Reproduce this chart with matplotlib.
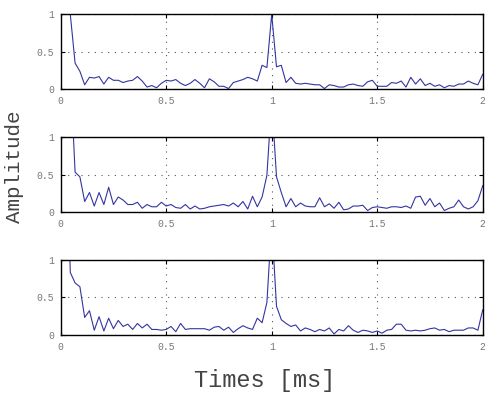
import numpy as np
import matplotlib
matplotlib.use("Agg")
import matplotlib.pyplot as plt

plt.rcParams["font.family"] = ["Liberation Mono", "DejaVu Sans Mono"]

# sample spacing: 44 samples per ms, samples k = 1..88
dt = 1.0 / 44
k = np.arange(1, 89)
times = k * dt

amp_top = [4.0, 1.0, 0.35, 0.24, 0.06, 0.16, 0.15, 0.17, 0.07, 0.16, 0.12, 0.12, 0.09, 0.11,
           0.12, 0.17, 0.11, 0.03, 0.05, 0.02, 0.08, 0.12, 0.11, 0.13, 0.08, 0.05, 0.08, 0.13,
           0.08, 0.02, 0.14, 0.10, 0.04, 0.04, 0.01, 0.09, 0.11, 0.13, 0.16, 0.14, 0.11, 0.32,
           0.29, 1.0, 0.30, 0.32, 0.09, 0.16, 0.08, 0.07, 0.08, 0.07, 0.06, 0.06, 0.01, 0.06,
           0.05, 0.03, 0.03, 0.06, 0.07, 0.05, 0.04, 0.10, 0.12, 0.04, 0.04, 0.04, 0.09, 0.08,
           0.11, 0.03, 0.16, 0.07, 0.14, 0.05, 0.08, 0.04, 0.06, 0.02, 0.05, 0.04, 0.07, 0.07,
           0.11, 0.08, 0.06, 0.20]

amp_mid = [4.0, 1.9, 0.53, 0.47, 0.14, 0.26, 0.08, 0.26, 0.10, 0.33, 0.10, 0.20, 0.16, 0.10,
           0.10, 0.13, 0.05, 0.10, 0.07, 0.07, 0.13, 0.08, 0.10, 0.06, 0.05, 0.10, 0.04, 0.08,
           0.04, 0.05, 0.07, 0.08, 0.09, 0.10, 0.08, 0.12, 0.07, 0.14, 0.04, 0.21, 0.07, 0.20,
           0.49, 1.5, 0.47, 0.26, 0.07, 0.18, 0.07, 0.12, 0.08, 0.07, 0.07, 0.19, 0.07, 0.11,
           0.05, 0.13, 0.03, 0.04, 0.08, 0.08, 0.09, 0.02, 0.06, 0.07, 0.06, 0.05, 0.07, 0.07,
           0.06, 0.08, 0.05, 0.20, 0.21, 0.09, 0.18, 0.07, 0.12, 0.02, 0.05, 0.07, 0.16, 0.07,
           0.04, 0.07, 0.15, 0.35]

amp_bot = [3.2, 0.83, 0.69, 0.64, 0.23, 0.32, 0.06, 0.24, 0.05, 0.22, 0.08, 0.19, 0.11, 0.14,
           0.07, 0.15, 0.09, 0.14, 0.07, 0.07, 0.06, 0.07, 0.11, 0.04, 0.15, 0.07, 0.08, 0.08,
           0.08, 0.08, 0.06, 0.10, 0.11, 0.06, 0.10, 0.03, 0.08, 0.12, 0.09, 0.07, 0.22, 0.16,
           0.43, 1.5, 0.38, 0.20, 0.15, 0.11, 0.13, 0.05, 0.09, 0.07, 0.04, 0.07, 0.05, 0.09,
           0.01, 0.07, 0.05, 0.12, 0.06, 0.03, 0.06, 0.05, 0.03, 0.05, 0.02, 0.06, 0.07, 0.14,
           0.14, 0.06, 0.05, 0.06, 0.05, 0.06, 0.08, 0.09, 0.06, 0.07, 0.04, 0.06, 0.06, 0.06,
           0.09, 0.09, 0.06, 0.33]

xticks = [0, 0.5, 1, 1.5, 2]
xticklabels = ["0", "0.5", "1", "1.5", "2"]
yticks = [0, 0.5, 1]
yticklabels = ["0", "0.5", "1"]

fig = plt.figure(figsize=(4.86, 3.96), dpi=100)
bottoms = [0.7745, 0.4646, 0.1548]
for bottom, amp in zip(bottoms, [amp_top, amp_mid, amp_bot]):
    ax = fig.add_axes([0.1249, bottom, 0.8683, 0.1894])
    ax.plot(times, amp, color="#3434a2", lw=0.8)
    ax.set_xlim(0, 2)
    ax.set_ylim(0, 1)
    ax.set_xticks(xticks)
    ax.set_xticklabels(xticklabels)
    ax.set_yticks(yticks)
    ax.set_yticklabels(yticklabels)
    ax.grid(True, linestyle=(0, (1, 5)), color="#555555", lw=0.8)
    ax.tick_params(direction="in", length=3, width=0.8, top=True, right=True,
                   labelsize=7, labelcolor="#777777", pad=5)
    for s in ax.spines.values():
        s.set_linewidth(1.0)

fig.text(0.545, 0.04, "Times [ms]", ha="center", va="center", fontsize=17, color="#444444")
fig.text(0.03, 0.58, "Amplitude", ha="center", va="center", rotation=90,
         fontsize=15, color="#444444")

fig.savefig("out.png", dpi=100)
